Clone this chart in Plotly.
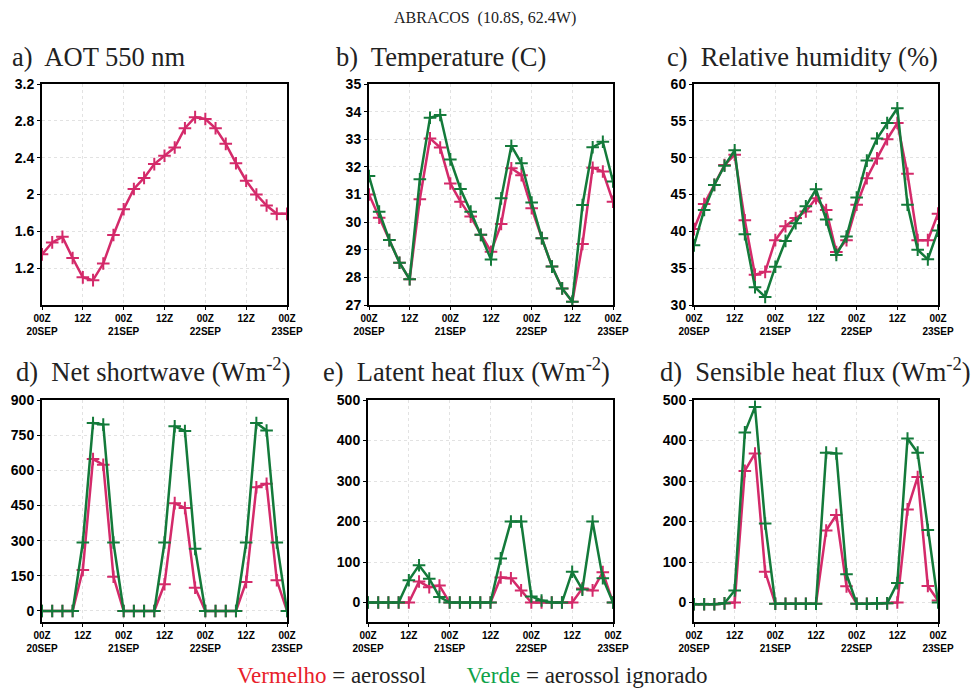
import plotly.graph_objects as go

# Time axis: hours since 00Z 20SEP, 3-hourly
hours = [0, 3, 6, 9, 12, 15, 18, 21, 24, 27, 30, 33, 36, 39, 42, 45, 48, 51, 54, 57, 60, 63, 66, 69, 72]
tick_hours = [0, 12, 24, 36, 48, 60, 72]
tick_text = ["00Z<br>20SEP", "12Z", "00Z<br>21SEP", "12Z", "00Z<br>22SEP", "12Z", "00Z<br>23SEP"]

# a) AOT 550 nm (only the aerosol run)
aot_red = [1.35, 1.48, 1.54, 1.31, 1.10, 1.07, 1.25, 1.56, 1.84, 2.06, 2.18, 2.33, 2.42,
           2.51, 2.72, 2.84, 2.82, 2.72, 2.55, 2.34, 2.15, 2.00, 1.88, 1.79, 1.79]

# b) Temperature (C)
temp_red = [31.0, 30.16, 29.35, 28.53, 27.93, 30.83, 33.03, 32.7, 31.4, 30.74, 30.2, 29.54, 28.93,
            29.93, 31.95, 31.7, 30.5, 29.42, 28.39, 27.6, 27.12, 29.21, 31.97, 31.83, 30.74]
temp_green = [31.67, 30.38, 29.35, 28.53, 27.93, 31.55, 33.78, 33.88, 32.27, 31.2, 30.38, 29.54, 28.65,
              30.86, 32.76, 32.13, 30.71, 29.42, 28.39, 27.6, 27.12, 30.62, 32.71, 32.91, 31.47]

# c) Relative humidity (%)
rh_red = [40.3, 43.7, 46.3, 49.0, 50.4, 41.5, 34.1, 34.5, 38.8, 40.7, 41.8, 42.7, 44.5,
          42.9, 37.2, 38.8, 43.6, 47.2, 49.9, 52.5, 54.7, 47.8, 38.8, 38.8, 42.4]
rh_green = [38.1, 42.9, 46.3, 48.9, 51.0, 39.6, 32.4, 31.1, 35.2, 38.7, 41.1, 43.4, 45.7,
            41.6, 36.8, 39.3, 44.6, 49.6, 52.6, 54.7, 56.7, 43.6, 37.5, 36.2, 40.1]

# d) Net shortwave (Wm-2)
sw_red = [0, 0, 0, 0, 175, 648, 624, 146, 0, 0, 0, 0, 114,
          460, 439, 99, 0, 0, 0, 0, 124, 528, 543, 131, 0]
sw_green = [0, 0, 0, 0, 292, 802, 795, 292, 0, 0, 0, 0, 292,
            788, 768, 265, 0, 0, 0, 0, 292, 802, 770, 292, 0]

# e) Latent heat flux (Wm-2)
lh_red = [0, 0, 0, 0, 0, 52, 38, 42, 0, 0, 0, 0, 0,
          62, 60, 30, 0, 0, 0, 0, 0, 35, 30, 75, 0]
lh_green = [0, 0, 0, 0, 55, 92, 59, 14, 0, 0, 0, 0, 0,
            109, 200, 200, 15, 5, 0, 0, 76, 32, 200, 60, 0]

# f) Sensible heat flux (Wm-2)
sh_red = [-4, -4, -4, -2, 0, 325, 368, 76, -3, -3, -3, -3, -3,
          178, 216, 40, -3, -3, -2, -2, 0, 230, 310, 41, 5]
sh_green = [-4, -4, -4, -2, 30, 420, 483, 195, -3, -3, -3, -3, -3,
            370, 368, 70, -3, -3, -2, -2, 48, 405, 370, 179, 0]

RED = "#d42a6a"
GREEN = "#137a3a"
SERIF = "Liberation Serif, Times New Roman, serif"
W, H = 971, 689


def px(x):
    return x / W


def py(y):
    return 1 - y / H


# panel boxes in page pixels (left, right, top, bottom)
boxes = [
    (42, 287, 84, 305), (369, 613, 84, 305), (694, 938, 84, 305),
    (42, 287, 400, 622), (368, 613, 400, 622), (694, 938, 400, 622),
]
yranges = [[0.8, 3.2], [27, 35], [30, 60], [-47, 900], [-48, 500], [-48, 500]]
yticks = [[1.2, 1.6, 2.0, 2.4, 2.8, 3.2], list(range(27, 36)), list(range(30, 61, 5)),
          list(range(0, 901, 150)), list(range(0, 501, 100)), list(range(0, 501, 100))]
yticktext = [["1.2", "1.6", "2", "2.4", "2.8", "3.2"], None, None, None, None, None]

series = [
    [aot_red], [temp_red, temp_green], [rh_red, rh_green],
    [sw_red, sw_green], [lh_red, lh_green], [sh_red, sh_green],
]
titles = ["a)  AOT 550 nm", "b)  Temperature (C)", "c)  Relative humidity (%)",
          "d)  Net shortwave (Wm<sup>-2</sup>)", "e)  Latent heat flux (Wm<sup>-2</sup>)",
          "d)  Sensible heat flux (Wm<sup>-2</sup>)"]
# title centres in page pixels
title_cx = [99, 441, 802, 153, 466, 815]
title_cy = [57, 57, 57, 370, 370, 370]

fig = go.Figure()
layout = {}
for i, (box, data) in enumerate(zip(boxes, series)):
    n = "" if i == 0 else str(i + 1)
    for vals, color in zip(data, [RED, GREEN]):
        fig.add_trace(go.Scatter(
            x=hours, y=vals, xaxis="x" + n, yaxis="y" + n,
            mode="lines+markers", showlegend=False,
            line=dict(color=color, width=2.5),
            marker=dict(symbol="cross-thin", size=9, line=dict(color=color, width=2)),
        ))
    l, r, t, b = box
    common = dict(showline=True, mirror=True, linecolor="black", linewidth=2,
                  showgrid=True, gridcolor="#e2e2e2", griddash="dot", gridwidth=1,
                  zeroline=False, ticks="outside", ticklen=3, tickcolor="black",
                  automargin=False)
    layout["xaxis" + n] = dict(
        domain=[px(l), px(r)], anchor="y" + n, range=[0, 72],
        tickvals=tick_hours, ticktext=tick_text,
        tickfont=dict(family="Liberation Sans", size=10, color="black", weight="bold"),
        **common)
    ya = dict(
        domain=[py(b), py(t)], anchor="x" + n, range=yranges[i],
        tickvals=yticks[i],
        tickfont=dict(family="Liberation Sans", size=14, color="black", weight="bold"),
        **common)
    if yticktext[i] is not None:
        ya["ticktext"] = yticktext[i]
    layout["yaxis" + n] = ya
    fig.add_annotation(xref="paper", yref="paper", x=px(title_cx[i]), y=py(title_cy[i]),
                       xanchor="center", yanchor="middle", showarrow=False, text=titles[i],
                       font=dict(family=SERIF, size=26.5, color="#222222"))

fig.add_annotation(xref="paper", yref="paper", x=px(485), y=py(18),
                   xanchor="center", yanchor="middle", showarrow=False,
                   text="ABRACOS  (10.8S, 62.4W)",
                   font=dict(family=SERIF, size=16, color="#222222"))
fig.add_annotation(xref="paper", yref="paper", x=px(472), y=py(675),
                   xanchor="center", yanchor="middle", showarrow=False,
                   text="<span style='color:#e8202a'>Vermelho</span> = aerossol"
                        "&nbsp;&nbsp;&nbsp;&nbsp;&nbsp;&nbsp;&nbsp;"
                        "<span style='color:#0fa24a'>Verde</span> = aerossol ignorado",
                   font=dict(family=SERIF, size=23, color="#222222"))

fig.update_layout(
    width=W, height=H, margin=dict(l=0, r=0, t=0, b=0),
    paper_bgcolor="white", plot_bgcolor="white",
    **layout,
)

# drop the default 8px page margin so the figure fills the 971x689 window
fig.write_html("out.html", config={"displayModeBar": False},
               post_script="document.body.style.margin = '0px';")
